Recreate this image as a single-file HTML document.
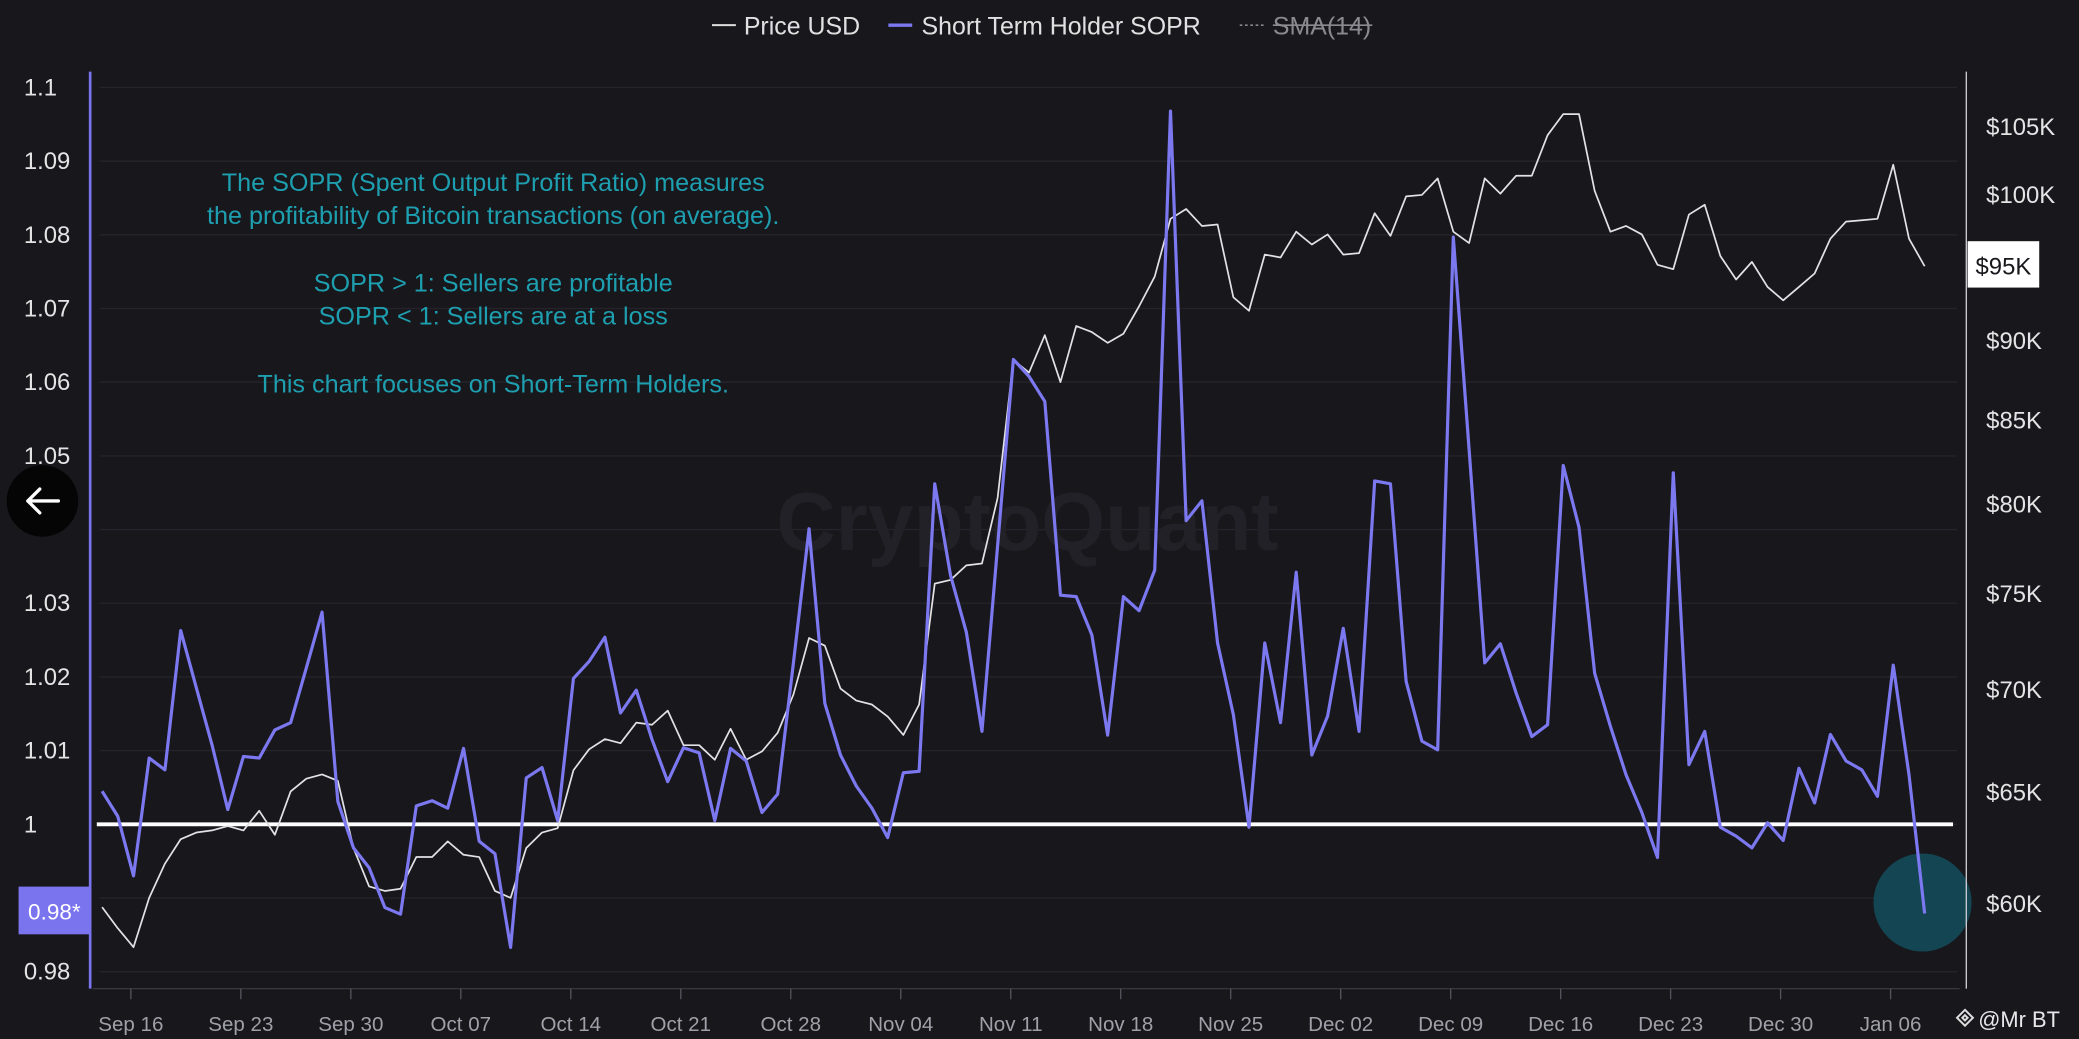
<!DOCTYPE html>
<html><head><meta charset="utf-8">
<style>
html,body{margin:0;padding:0;background:#18171c;overflow:hidden}
svg{display:block}
text{font-family:"Liberation Sans",sans-serif}
</style></head>
<body>
<svg id="chart" width="2079" height="1039" viewBox="0 0 1568 784" preserveAspectRatio="none" xmlns="http://www.w3.org/2000/svg">
<rect x="0" y="0" width="1568" height="784" fill="#18171c"/>
<g id="grid"></g>
<text x="775" y="415" text-anchor="middle" font-size="62" font-weight="bold" fill="#222127">CryptoQuant</text>
<g fill="#1e9fb0" font-size="19" text-anchor="middle">
<text x="372" y="144">The SOPR (Spent Output Profit Ratio) measures</text>
<text x="372" y="169">the profitability of Bitcoin transactions (on average).</text>
<text x="372" y="220">SOPR &gt; 1: Sellers are profitable</text>
<text x="372" y="245">SOPR &lt; 1: Sellers are at a loss</text>
<text x="372" y="296">This chart focuses on Short-Term Holders.</text>
</g>
<ellipse cx="1450" cy="681" rx="37" ry="37" fill="#134553"/>
<g id="series"></g>
<line x1="68" y1="54" x2="68" y2="746" stroke="#7b74ef" stroke-width="2"/>
<line x1="1483" y1="54" x2="1483" y2="746" stroke="#cfcfd4" stroke-width="1"/>
<line x1="70" y1="746" x2="1478" y2="746" stroke="#3a3940" stroke-width="1"/>
<g id="axes"></g>
<g font-size="18.8" fill="#e0e0e0">
<g><line x1="537" y1="19" x2="555" y2="19" stroke="#ddd" stroke-width="1.5"/><text x="561" y="26">Price USD</text></g>
<g><line x1="670" y1="19" x2="688" y2="19" stroke="#7b78f0" stroke-width="2.5"/><text x="695" y="26">Short Term Holder SOPR</text></g>
<g><line x1="935" y1="19" x2="953" y2="19" stroke="#888" stroke-width="1.2" stroke-dasharray="2,2"/><text x="960" y="26" fill="#8a8a90">SMA(14)</text><line x1="960" y1="19" x2="1035" y2="19" stroke="#8a8a90" stroke-width="1.2"/></g>
</g>
<g>
<circle cx="32" cy="378" r="27" fill="#050505"/>
<path d="M21 378 H44 M21 378 L30 369 M21 378 L30 387" stroke="#fff" stroke-width="2.5" fill="none" stroke-linecap="round"/>
</g>
<g>
<rect x="14" y="669" width="54" height="36" fill="#7b74ef"/>
<text x="41" y="694" text-anchor="middle" font-size="17" fill="#fff">0.98*</text>
</g>
<g>
<rect x="1484" y="182" width="54" height="35" fill="#ffffff"/>
<text x="1511" y="207" text-anchor="middle" font-size="18" fill="#18171c">$95K</text>
</g>
<g>
<path d="M1482 762 l6 6 l-6 6 l-6 -6 z M1482 766 l2 2 l-2 2 l-2 -2 z" fill="none" stroke="#ddd" stroke-width="1.5"/>
<text x="1492" y="775" font-size="16.5" fill="#e8e8e8">@Mr BT</text>
</g>
</svg>
<script>
const sopr = [1.0045,1.0011,0.9930,1.0090,1.0074,1.0263,1.0185,1.0108,1.0020,1.0092,1.0090,1.0128,1.0138,1.0212,1.0288,1.0031,0.9968,0.9941,0.9887,0.9878,1.0025,1.0032,1.0022,1.0103,0.9977,0.9960,0.9833,1.0063,1.0077,1.0005,1.0198,1.0221,1.0254,1.0151,1.0182,1.0115,1.0058,1.0104,1.0097,1.0005,1.0103,1.0086,1.0016,1.0041,1.0219,1.0401,1.0164,1.0094,1.0052,1.0022,0.9982,1.0070,1.0072,1.0462,1.0338,1.0261,1.0126,1.0378,1.0631,1.0608,1.0574,1.0311,1.0309,1.0257,1.0121,1.0309,1.0290,1.0345,1.0968,1.0412,1.0439,1.0246,1.0149,0.9996,1.0246,1.0138,1.0342,1.0094,1.0147,1.0266,1.0126,1.0466,1.0462,1.0194,1.0113,1.0101,1.0797,1.0509,1.0219,1.0245,1.0178,1.0119,1.0135,1.0487,1.0403,1.0205,1.0133,1.0067,1.0016,0.9955,1.0477,1.0081,1.0126,0.9996,0.9984,0.9968,1.0002,0.9978,1.0076,1.0029,1.0122,1.0086,1.0074,1.0038,1.0216,1.0067,0.9879];
const price = [59.8,58.9,58.1,60.2,61.7,62.8,63.1,63.2,63.4,63.2,64.1,63.0,65.0,65.6,65.8,65.5,62.4,60.7,60.5,60.6,62.0,62.0,62.7,62.1,62.0,60.5,60.2,62.4,63.1,63.3,66.0,67.0,67.5,67.3,68.3,68.2,68.9,67.2,67.2,66.5,68.0,66.5,66.9,67.8,69.7,72.6,72.2,70.0,69.4,69.2,68.6,67.7,69.2,75.5,75.7,76.5,76.6,80.3,88.7,87.9,90.3,87.3,90.9,90.5,89.8,90.4,92.2,94.2,98.2,98.9,97.7,97.8,92.8,91.9,95.7,95.5,97.3,96.4,97.1,95.7,95.8,98.6,97.0,99.8,99.9,101.1,97.3,96.5,101.1,100.0,101.3,101.3,104.3,105.9,105.9,100.2,97.3,97.7,97.1,95.0,94.7,98.5,99.2,95.6,94.0,95.2,93.5,92.6,93.5,94.4,96.8,98.0,98.1,98.2,102.1,96.8,94.9];
const soprTicks = [0.98,0.99,1.0,1.01,1.02,1.03,1.04,1.05,1.06,1.07,1.08,1.09,1.1];
const soprTickLabels = ["0.98","","1","1.01","1.02","1.03","","1.05","1.06","1.07","1.08","1.09","1.1"];
const priceTicks = [60,65,70,75,80,85,90,95,100,105];
const priceTickLabels = ["$60K","$65K","$70K","$75K","$80K","$85K","$90K","","$100K","$105K"];
const dateTickIdx = [2,9,16,23,30,37,44,51,58,65,72,79,86,93,100,107,114];
const dateTickLabels = ["Sep 16","Sep 23","Sep 30","Oct 07","Oct 14","Oct 21","Oct 28","Nov 04","Nov 11","Nov 18","Nov 25","Dec 02","Dec 09","Dec 16","Dec 23","Dec 30","Jan 06"];

const NS="http://www.w3.org/2000/svg";
function xS(i){return 77+(1451.6-77)*i/116;}
function ySopr(v){return 622-(v-1)*5560;}
function yPrice(p){return 681-Math.log(p/60)/Math.log(105/60)*586;}
function mk(tag,attrs,parent){const e=document.createElementNS(NS,tag);for(const k in attrs)e.setAttribute(k,attrs[k]);parent.appendChild(e);return e;}

const grid=document.getElementById('grid'), axes=document.getElementById('axes'), series=document.getElementById('series');
soprTicks.forEach((t,i)=>{
  const y=ySopr(t);
  const g=mk('line',{x1:75,x2:1476,y1:y,y2:y,stroke:'#25242b','stroke-width':1},grid);
  
  
  if(soprTickLabels[i]){
    const tx=mk('text',{x:18,y:y+6,'font-size':18,fill:'#e4e4e4'},axes);
    tx.textContent=soprTickLabels[i];
    
    
  }
});
priceTicks.forEach((t,i)=>{
  if(!priceTickLabels[i])return;
  const tx=mk('text',{x:1498,y:yPrice(t)+7,'font-size':18,fill:'#e4e4e4'},axes);
  tx.textContent=priceTickLabels[i];
  
  
});
dateTickIdx.forEach((d,i)=>{
  const x=xS(d)-2;
  const tk=mk('line',{x1:x,x2:x,y1:746,y2:754,stroke:'#55545c','stroke-width':1},axes);
  
  
  const tx=mk('text',{x:x,y:778,'font-size':15.5,fill:'#a0a0a8','text-anchor':'middle'},axes);
  tx.textContent=dateTickLabels[i];
  
  
});
const base=mk('line',{x1:73,x2:1473,y1:ySopr(1),y2:ySopr(1),stroke:'#ffffff','stroke-width':3},series);


const pp=mk('polyline',{points:price.map((p,i)=>xS(i).toFixed(1)+','+yPrice(p).toFixed(1)).join(' '),fill:'none',stroke:'#e2e2e6','stroke-width':1.3,'stroke-linejoin':'round'},series);


const sp=mk('polyline',{points:sopr.map((v,i)=>xS(i).toFixed(1)+','+ySopr(v).toFixed(1)).join(' '),fill:'none',stroke:'#7b78f0','stroke-width':2.4,'stroke-linejoin':'round'},series);


</script>
</body></html>
